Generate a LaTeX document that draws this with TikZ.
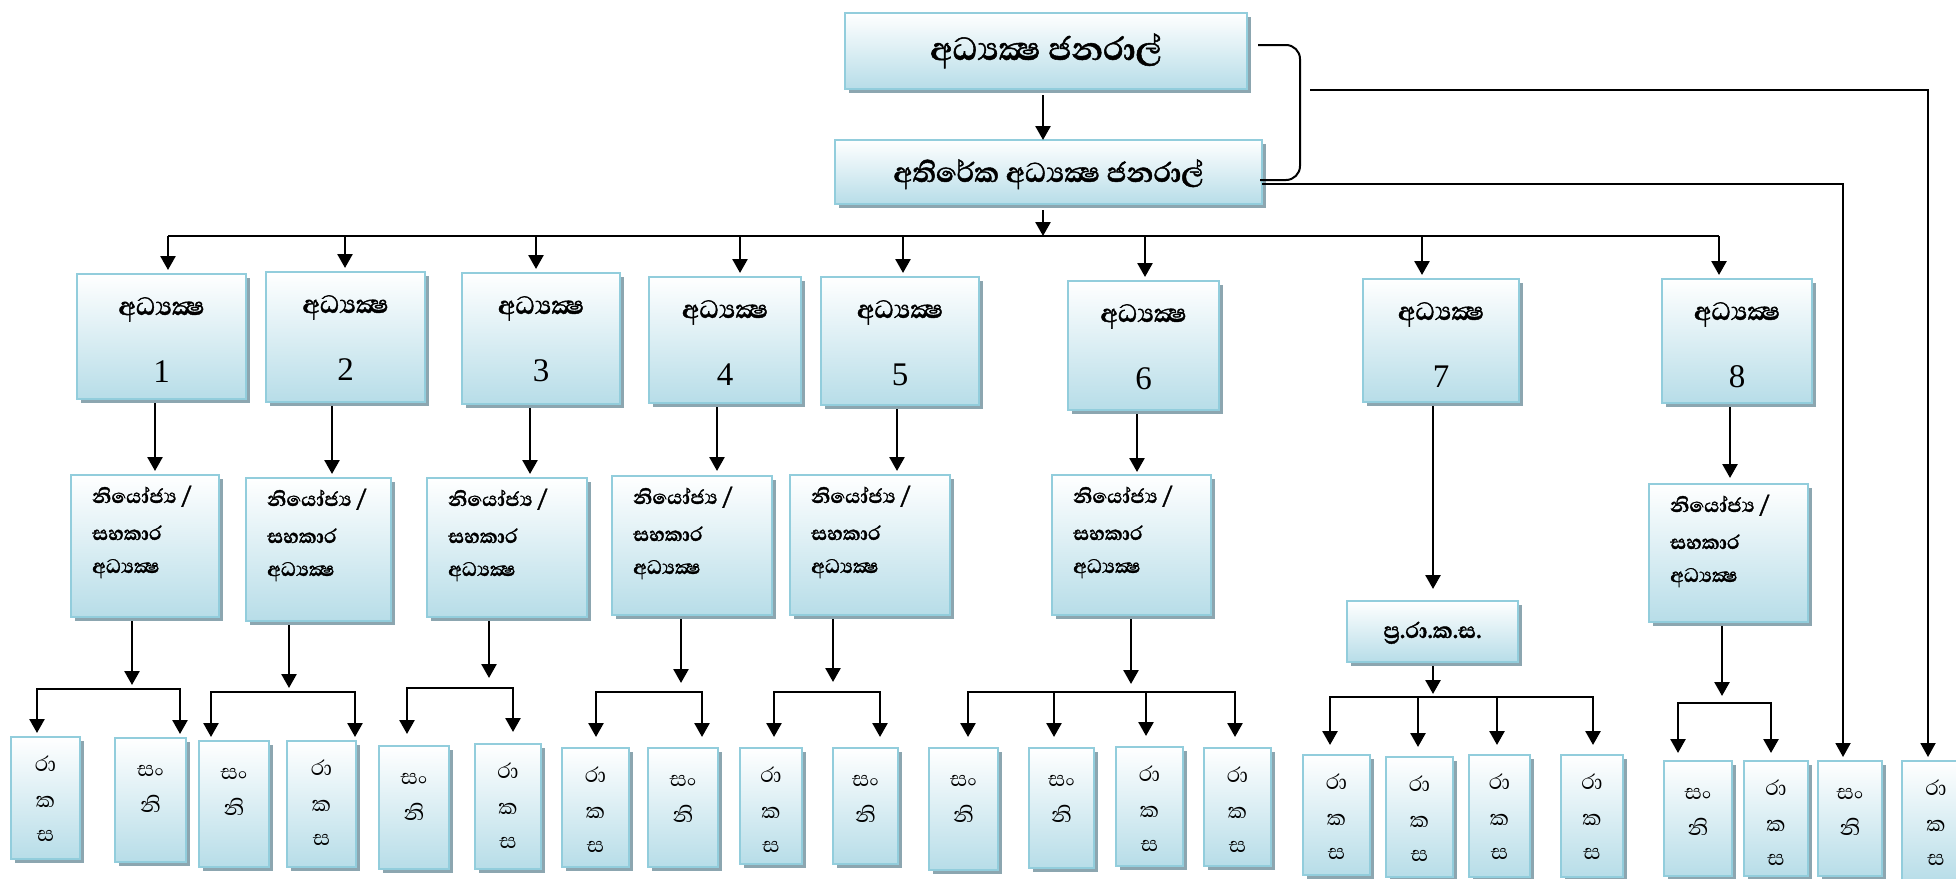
\documentclass[tikz,border=0pt]{standalone}
\usepackage{fontspec}
\setmainfont{Liberation Serif}
\newfontfamily\sifont[Script=Sinhala,BoldFeatures={FakeBold=1.3}]{Abhaya Libre}
\usetikzlibrary{arrows.meta,shadows,calc}
\definecolor{bordc}{RGB}{146,205,220}
\definecolor{fillc}{RGB}{183,221,232}
\definecolor{shadc}{RGB}{140,166,176}
\tikzset{
 box/.style={draw=bordc, line width=2.2pt, top color=white, bottom color=fillc,
   drop shadow={shadow xshift=3.5pt, shadow yshift=-4pt, fill=shadc, opacity=1},
   inner sep=0pt, outer sep=0pt},
 arr/.style={line width=2.6pt, -{Triangle[length=14pt,width=15pt]}},
 arrb/.style={line width=2.6pt, {Triangle[length=14pt,width=15pt]}-{Triangle[length=14pt,width=15pt]}},
 ln/.style={line width=2.6pt},
 tx/.style={inner sep=0pt, anchor=base},
 txl/.style={inner sep=0pt, anchor=base west},
 fdg/.style={font=\sifont\bfseries\fontsize{41}{46}\selectfont},
 fadg/.style={font=\sifont\bfseries\fontsize{35}{40}\selectfont},
 fdir/.style={font=\sifont\bfseries\fontsize{32}{36}\selectfont},
 fdep/.style={font=\sifont\bfseries\fontsize{25}{28}\selectfont},
 fsm/.style={font=\sifont\fontsize{27}{30}\selectfont},
 fnum/.style={font=\fontsize{33}{38}\selectfont},
}
\newcommand\mkbox[5]{\node[box, anchor=north west, minimum width={(#4-#2)*1pt}, minimum height={(#5-#3)*1pt}] (#1) at (#2,#3) {};}
\newcommand\rksbox[5]{\mkbox{#1}{#2}{#3}{#4}{#5}
  \node[tx,fsm] (#1-1) at ($(#1.north)+(0,34)$) {රා};
  \node[tx,fsm] (#1-2) at ($(#1.north)+(0,70)$) {ක};
  \node[tx,fsm] (#1-3) at ($(#1.north)+(0,104)$) {ස};}
\newcommand\snibox[5]{\mkbox{#1}{#2}{#3}{#4}{#5}
  \node[tx,fsm] (#1-1) at ($(#1.north)+(0,38)$) {සං};
  \node[tx,fsm] (#1-2) at ($(#1.north)+(0,74)$) {නි};}
\newcommand\dirbox[6]{\mkbox{#1}{#2}{#3}{#4}{#5}
  \node[tx,fdir] (#1-t) at ($(#1.north)+(0,41)$) {අධ්^^^^200dයක්^^^^200dෂ};
  \node[tx,fnum] (#1-n) at ($(#1.north)+(0,108)$) {#6};}
\newcommand\depbox[5]{\mkbox{#1}{#2}{#3}{#4}{#5}
  \node[txl,fdep] (#1-1) at ($(#1.north west)+(21,28)$) {නියෝජ්^^^^200dය /};
  \node[txl,fdep] (#1-2) at ($(#1.north west)+(21,65)$) {සහකාර};
  \node[txl,fdep] (#1-3) at ($(#1.north west)+(21,98)$) {අධ්^^^^200dයක්^^^^200dෂ};}
\begin{document}
\begin{tikzpicture}[x=1pt,y=-1pt]
\useasboundingbox (0,0) rectangle (1956,878);
\clip (0,0) rectangle (1956,878);
% top level
\mkbox{dg}{845}{13}{1247}{89}
\node[tx,fdg] (dg-t) at ($(dg.north)+(0,47)$) {අධ්^^^^200dයක්^^^^200dෂ ජනරාල්};
\mkbox{adg}{835}{140}{1262}{204}
\node[tx,fadg] (adg-t) at ($(adg.north)+(0,42)$) {අතිරේක අධ්^^^^200dයක්^^^^200dෂ ජනරාල්};
% directors
\dirbox{d1}{77}{274}{246}{399}{1}
\dirbox{d2}{266}{272}{425}{402}{2}
\dirbox{d3}{462}{273}{620}{404}{3}
\dirbox{d4}{649}{277}{801}{403}{4}
\dirbox{d5}{821}{277}{979}{405}{5}
\dirbox{d6}{1068}{281}{1219}{410}{6}
\dirbox{d7}{1363}{279}{1519}{402}{7}
\dirbox{d8}{1662}{279}{1812}{403}{8}
% deputies
\depbox{p1}{71}{475}{219}{617}
\depbox{p2}{246}{478}{391}{621}
\depbox{p3}{427}{478}{587}{617}
\depbox{p4}{612}{476}{772}{615}
\depbox{p5}{790}{475}{950}{615}
\depbox{p6}{1052}{475}{1211}{615}
\depbox{p8}{1649}{484}{1808}{622}
\mkbox{prks}{1347}{601}{1518}{662}
\node[tx,font=\sifont\bfseries\fontsize{28}{32}\selectfont] (prks-t) at ($(prks.north)+(0,37)$) {ප්^^^^200dර.රා.ක.ස.};
% bottom boxes
\rksbox{a}{11}{737}{80}{859}
\snibox{b}{115}{738}{186}{862}
\snibox{c}{199}{741}{269}{867}
\rksbox{d}{287}{741}{356}{867}
\snibox{e}{379}{746}{449}{869}
\rksbox{f}{475}{744}{541}{869}
\rksbox{g}{562}{748}{629}{867}
\snibox{h}{648}{748}{718}{867}
\rksbox{i}{740}{748}{802}{864}
\snibox{j}{833}{748}{898}{864}
\snibox{k}{929}{748}{998}{870}
\snibox{l}{1029}{748}{1094}{868}
\rksbox{m}{1116}{747}{1183}{866}
\rksbox{n}{1204}{748}{1271}{866}
\rksbox{o}{1303}{755}{1370}{875}
\rksbox{p}{1386}{757}{1453}{877}
\rksbox{q}{1469}{755}{1530}{877}
\rksbox{r}{1561}{755}{1623}{877}
\snibox{s}{1664}{761}{1732}{876}
\rksbox{t}{1744}{761}{1808}{876}
\snibox{u}{1818}{761}{1882}{876}
\rksbox{v}{1902}{761}{1970}{882}
% top connectors
\coordinate (topx) at (1043,0);
\coordinate (busL) at (168,236);
\coordinate (busR) at (1719,236);
\draw[arr, shorten <=6pt] (dg.south -| topx) -- (adg.north -| topx);
\draw[arr, shorten <=6pt] (adg.south -| topx) -- (busL -| topx);
\draw[ln] (busL) -- (busR);
\foreach \n/\x in {1/168,2/345,3/536,4/740,5/903,6/1145,7/1422,8/1719}{
  \coordinate (bd) at (\x,236);
  \draw[arr, shorten >=4pt] (bd) -- (bd |- d\n.north);}
% brace and long lines
\coordinate (brt) at (1300,45);
\coordinate (brb) at (1300,180);
\draw[line width=2pt, rounded corners=14pt] ([xshift=11pt,yshift=6pt]dg.east) -- (brt) -- (brb) -- ([xshift=-2pt,yshift=-8pt]adg.east);
\coordinate (braceout) at (1310,90);
\coordinate (rvx) at (1928,0);
\coordinate (rux) at (1843,0);
\draw[arr, line width=2pt, shorten >=4pt] (braceout) -| (v.north -| rvx);
\draw[arr, line width=2pt, shorten >=4pt] ([yshift=-12pt]adg.east) -| (u.north -| rux);
% director to deputy
\foreach \n/\x/\t/\e in {1/155/p1/4, 2/332/p2/4, 3/530/p3/4, 4/717/p4/5, 5/897/p5/4, 6/1137/p6/3, 7/1433/prks/12, 8/1730/p8/6}{
  \coordinate (vx) at (\x,0);
  \draw[arr, shorten <=4pt, shorten >=\e pt] (d\n.south -| vx) -- (\t.north -| vx);}
% groups
\foreach \src/\jx/\jy/\gs/\lx/\lb/\rx/\rb/\bs in {
  p1/132/689/4/37/a/180/b/4,
  p2/289/692/4/211/c/355/d/4,
  p3/489/688/10/407/e/513/f/12,
  p4/681/692/9/596/g/702/h/11,
  p5/833/692/10/774/i/880/j/11,
  p6/1131/692/8/968/k/1235/n/11,
  prks/1433/697/3/1330/o/1593/r/10,
  p8/1722/703/7/1678/s/1771/t/8}{
  \coordinate (jj) at (\jx,\jy);
  \coordinate (jl) at (\lx,\jy);
  \coordinate (jr) at (\rx,\jy);
  \draw[arr, shorten <=4pt, shorten >=\gs pt] (\src.south -| jj) -- (jj);
  \draw[arrb, shorten <=\bs pt, shorten >=\bs pt] (jl |- \lb.north) -- (jl) -- (jr) -- (jr |- \rb.north);}
\foreach \x/\b in {1054/l,1146/m}{
  \coordinate (jm) at (\x,692);
  \draw[arr, shorten >=11pt] (jm) -- (jm |- \b.north);}
\foreach \x/\b in {1418/p,1497/q}{
  \coordinate (jm) at (\x,697);
  \draw[arr, shorten >=10pt] (jm) -- (jm |- \b.north);}
\end{tikzpicture}
\end{document}
